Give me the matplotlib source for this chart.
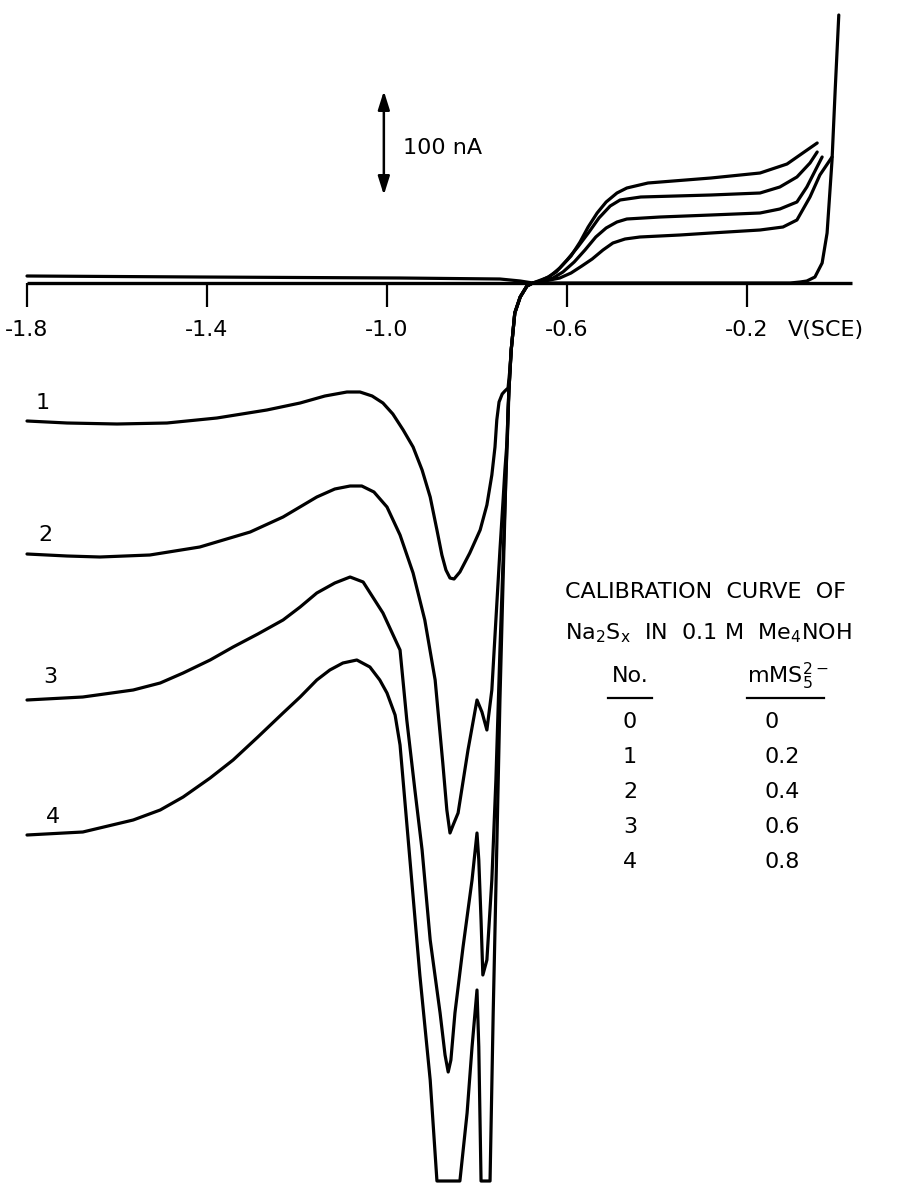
import matplotlib.pyplot as plt

plt.rcParams['font.family'] = ['DejaVu Sans']
plt.rcParams['mathtext.default'] = 'regular'

# Potential in V vs SCE, current in nA (anodic up, cathodic down)
# cathodic branch of each run, swept from -1.8 V up to the zero crossing
v_cath_1 = [-1.800, -1.711, -1.600, -1.489, -1.378, -1.267, -1.193, -1.138, -1.089, -1.060,
            -1.033, -1.009, -0.987, -0.964, -0.942, -0.922, -0.904, -0.889, -0.878, -0.869,
            -0.860, -0.851, -0.838, -0.816, -0.793, -0.778, -0.767, -0.760, -0.756, -0.751,
            -0.744, -0.738, -0.731, -0.727, -0.724, -0.716, -0.704, -0.689, -0.676]
i_cath_1 = [-138, -140, -141, -140, -135, -127, -120, -113, -109, -109,
            -113, -120, -131, -147, -164, -187, -214, -247, -272, -287,
            -295, -296, -289, -270, -247, -222, -192, -164, -137, -119,
            -111, -108, -105, -87, -67, -30, -14, -3, 0]

v_cath_2 = [-1.800, -1.711, -1.638, -1.527, -1.416, -1.304, -1.231, -1.156, -1.116, -1.082,
            -1.056, -1.029, -1.000, -0.971, -0.942, -0.916, -0.893, -0.876, -0.867, -0.860,
            -0.853, -0.842, -0.820, -0.800, -0.789, -0.778, -0.767, -0.758, -0.749, -0.742,
            -0.738, -0.733, -0.731, -0.729, -0.724, -0.716, -0.704, -0.689, -0.676]
i_cath_2 = [-271, -273, -274, -272, -264, -249, -234, -214, -206, -203,
            -203, -209, -224, -252, -290, -337, -397, -480, -527, -550,
            -542, -530, -467, -417, -429, -447, -407, -337, -267, -217,
            -187, -157, -127, -107, -67, -30, -14, -3, 0]

v_cath_3 = [-1.800, -1.676, -1.564, -1.504, -1.453, -1.393, -1.342, -1.287, -1.231, -1.193,
            -1.156, -1.116, -1.082, -1.053, -1.009, -0.971, -0.956, -0.938, -0.922, -0.904,
            -0.882, -0.871, -0.864, -0.858, -0.849, -0.831, -0.811, -0.800, -0.796, -0.791,
            -0.787, -0.778, -0.767, -0.758, -0.749, -0.742, -0.736, -0.731, -0.729, -0.724,
            -0.716, -0.704, -0.689, -0.676]
i_cath_3 = [-417, -414, -407, -400, -390, -377, -364, -351, -337, -324,
            -310, -300, -294, -299, -330, -367, -437, -507, -567, -657,
            -730, -772, -789, -777, -730, -664, -597, -550, -577, -637,
            -692, -677, -597, -497, -367, -277, -197, -137, -107, -67,
            -30, -14, -3, 0]

# run 4 runs into the recorder limit (-898 nA) twice
v_cath_4 = [-1.800, -1.676, -1.564, -1.504, -1.453, -1.393, -1.342, -1.287, -1.231, -1.193,
            -1.156, -1.127, -1.098, -1.067, -1.038, -1.016, -1.000, -0.982, -0.971, -0.949,
            -0.927, -0.904, -0.889, -0.838, -0.822, -0.811, -0.800, -0.796, -0.791, -0.771,
            -0.764, -0.756, -0.749, -0.742, -0.736, -0.731, -0.729, -0.724, -0.716, -0.704,
            -0.689, -0.676]
i_cath_4 = [-552, -549, -537, -527, -514, -495, -477, -454, -430, -414,
            -397, -387, -380, -377, -384, -397, -410, -432, -462, -577,
            -692, -797, -898, -898, -830, -764, -707, -764, -898, -898,
            -730, -564, -417, -297, -197, -127, -107, -67, -30, -14,
            -3, 0]

# anodic waves
v_anod_1 = [-0.649, -0.616, -0.591, -0.567, -0.544, -0.520, -0.498, -0.471, -0.438, -0.349,
            -0.280, -0.171, -0.120, -0.089, -0.060, -0.038, -0.011]
i_anod_1 = [2, 5, 10, 17, 24, 33, 40, 44, 46, 48, 50, 53, 56, 63, 86, 108, 126]

v_anod_2 = [-0.658, -0.631, -0.609, -0.584, -0.560, -0.536, -0.513, -0.489, -0.467, -0.393,
            -0.280, -0.171, -0.127, -0.089, -0.067, -0.033]
i_anod_2 = [1, 5, 11, 21, 33, 46, 55, 61, 64, 66, 68, 70, 74, 81, 96, 126]

v_anod_3 = [-0.660, -0.642, -0.624, -0.600, -0.576, -0.551, -0.529, -0.504, -0.482, -0.436,
            -0.280, -0.171, -0.127, -0.089, -0.060, -0.044]
i_anod_3 = [2, 6, 11, 23, 36, 51, 65, 77, 83, 86, 88, 90, 96, 106, 120, 131]

v_anod_4 = [-0.664, -0.640, -0.616, -0.591, -0.571, -0.553, -0.533, -0.513, -0.489, -0.467,
            -0.420, -0.280, -0.171, -0.111, -0.076, -0.044]
i_anod_4 = [2, 6, 15, 27, 41, 56, 70, 81, 90, 95, 100, 105, 110, 119, 130, 140]

# blank electrolyte (No. 0)
v_blank = [-1.800, -1.416, -0.971, -0.749, -0.704, -0.676, -0.104, -0.082, -0.067, -0.049,
           -0.033, -0.022, -0.011, -0.004, 0.004]
i_blank = [7, 6, 5, 4, 2, 0, 0, 1, 2, 6, 20, 50, 123, 193, 268]

tick_v = [-1.8, -1.4, -1.0, -0.6, -0.2]
tick_labels = ['-1.8', '-1.4', '-1.0', '-0.6', '-0.2']

run_no = ['0', '1', '2', '3', '4']
conc_mm = ['0', '0.2', '0.4', '0.6', '0.8']

W, H = 912, 1184


def fx(x):
    return x / W


def fy(y):
    return 1 - y / H


fig = plt.figure(figsize=(W / 100, H / 100), dpi=100)
ax = fig.add_axes([0, 0, 1, 1])
ax.set_xlim(-1.86, 0.1667)
ax.set_ylim(-901, 283)
ax.axis('off')

lw = 2.3
line_kw = dict(color='black', lw=lw, solid_joinstyle='round', solid_capstyle='round')

# potential axis
ax.plot([-1.8, 0.033], [0, 0], color='black', lw=2.4, solid_capstyle='butt')
ax.vlines(tick_v, -24, 0, color='black', lw=1.6)
for v, lab in zip(tick_v, tick_labels):
    ax.text(v, -47, lab, ha='center', va='center', fontsize=16)
ax.text(-0.109, -47, 'V(SCE)', ha='left', va='center', fontsize=16)

ax.plot(v_blank, i_blank, **line_kw)
for vc, ic, va, ia in [(v_cath_1, i_cath_1, v_anod_1, i_anod_1),
                       (v_cath_2, i_cath_2, v_anod_2, i_anod_2),
                       (v_cath_3, i_cath_3, v_anod_3, i_anod_3),
                       (v_cath_4, i_cath_4, v_anod_4, i_anod_4)]:
    ax.plot(vc + va, ic + ia, **line_kw)

# current scale bar
ax.annotate('', xy=(-1.007, 192), xytext=(-1.007, 88),
            arrowprops=dict(arrowstyle='<|-|>,head_length=0.7,head_width=0.22',
                            color='black', lw=1.8, mutation_scale=16,
                            shrinkA=0, shrinkB=0))
ax.text(-0.964, 135, '100 nA', ha='left', va='center', fontsize=16)

# run numbers at the left ends
for lab, (x, y) in zip(['1', '2', '3', '4'], [(43, 403), (45, 535), (50, 677), (53, 817)]):
    fig.text(fx(x), fy(y), lab, ha='center', va='center', fontsize=16)

# calibration table
fig.text(fx(565), fy(592), 'CALIBRATION  CURVE  OF', ha='left', va='center', fontsize=16)
fig.text(fx(565), fy(633), r'Na$_2$S$_x$  IN  0.1 M  Me$_4$NOH', ha='left', va='center', fontsize=16)
fig.text(fx(630), fy(676), 'No.', ha='center', va='center', fontsize=16)
fig.text(fx(747), fy(676), r'mMS$_5^{2-}$', ha='left', va='center', fontsize=16)
fig.add_artist(plt.Line2D([fx(608), fx(652)], [fy(698), fy(698)], color='black', lw=1.6))
fig.add_artist(plt.Line2D([fx(747), fx(824)], [fy(698), fy(698)], color='black', lw=1.6))
for k, (n, c) in enumerate(zip(run_no, conc_mm)):
    y = 722 + 35 * k
    fig.text(fx(630), fy(y), n, ha='center', va='center', fontsize=16)
    fig.text(fx(765), fy(y), c, ha='left', va='center', fontsize=16)

fig.savefig('out.png', dpi=100)
